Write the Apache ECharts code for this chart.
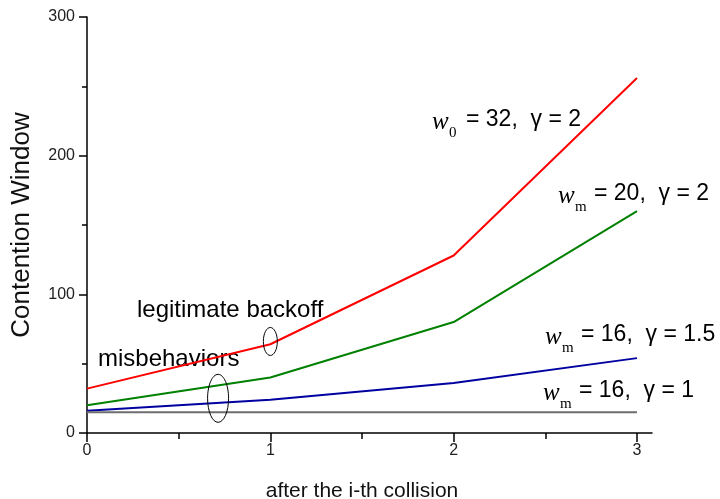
<!DOCTYPE html>
<html>
<head>
<meta charset="utf-8">
<script src="https://cdn.jsdelivr.net/npm/echarts@6/dist/echarts.min.js"></script>
<style>
  html, body { margin: 0; padding: 0; background: #fff; }
  #main { width: 720px; height: 499px; }
</style>
</head>
<body>
<div id="main"></div>
<script>
const collisions = [0, 1, 2, 3];
const legit = [32, 64, 128, 256];       // w0 = 32, gamma = 2
const misWm20 = [20, 40, 80, 160];      // wm = 20, gamma = 2
const misWm16g15 = [16, 24, 36, 54];    // wm = 16, gamma = 1.5
const misWm16g1 = [15, 15, 15, 15];     // wm = 16, gamma = 1
const yTicks = [0, 100, 200, 300];

const FONT = "Liberation Sans, Arial, sans-serif";
const SERIF = "Liberation Serif, Times New Roman, serif";

const pairs = (ys) => collisions.map((x, i) => [x, ys[i]]);

const line = (name, ys, color) => ({
  name: name,
  type: "line",
  xAxisIndex: 0,
  yAxisIndex: 0,
  data: pairs(ys),
  symbol: "none",
  lineStyle: { color: color, width: 2 },
  z: 3,
});

/* curve label like "w_m = 16,  γ = 1.5" */
const annot = (id, sub, rest, x, y, restX) => ({
  id: id,
  type: "group",
  x: x,
  y: y,
  children: [
    {
      type: "text",
      x: 0,
      y: 2,
      style: { text: "w", fontFamily: SERIF, fontStyle: "italic", fontSize: 25, fill: "#000", verticalAlign: "middle" },
    },
    {
      type: "text",
      x: 17,
      y: 13,
      style: { text: sub, fontFamily: SERIF, fontSize: 15, fill: "#000", verticalAlign: "middle" },
    },
    {
      type: "text",
      x: restX,
      y: 0,
      style: { text: rest, fontFamily: FONT, fontSize: 23, fill: "#000", verticalAlign: "middle" },
    },
  ],
});

const chartDom = document.getElementById("main");
const myChart = echarts.init(chartDom);

const option = {
  animation: false,
  grid: [
    { left: 87, right: 83, top: 17, bottom: 66, outerBoundsMode: "none" },
    { left: 87, right: 68, top: 17, bottom: 66, outerBoundsMode: "none" },
  ],
  xAxis: [
    {
      type: "value",
      gridIndex: 0,
      min: 0,
      max: 3,
      interval: 1,
      name: "after the i-th collision",
      nameLocation: "middle",
      nameGap: 48,
      nameTextStyle: { fontFamily: FONT, fontSize: 21, color: "#111" },
      axisLine: { show: false },
      axisTick: { show: true, length: 9, inside: false, lineStyle: { color: "#000", width: 1.5 } },
      minorTick: { show: true, splitNumber: 2, length: 6, lineStyle: { color: "#000", width: 1.5 } },
      axisLabel: { fontFamily: FONT, fontSize: 16, color: "#222", margin: 10 },
      splitLine: { show: false },
    },
    {
      type: "value",
      gridIndex: 1,
      min: 0,
      max: 1,
      axisLine: { show: true, onZero: false, lineStyle: { color: "#000", width: 1.5 } },
      axisTick: { show: false },
      axisLabel: { show: false },
      splitLine: { show: false },
    },
  ],
  yAxis: [
    {
      type: "value",
      gridIndex: 0,
      min: 0,
      max: 300,
      interval: 100,
      name: "Contention Window",
      nameLocation: "middle",
      nameGap: 52,
      nameTextStyle: { fontFamily: FONT, fontSize: 26, color: "#111" },
      axisLine: { show: true, lineStyle: { color: "#000", width: 1.5 } },
      axisTick: { show: true, length: 8, lineStyle: { color: "#000", width: 1.5 } },
      minorTick: { show: true, splitNumber: 2, length: 5, lineStyle: { color: "#000", width: 1.5 } },
      axisLabel: {
        fontFamily: FONT,
        fontSize: 16,
        color: "#222",
        margin: 12,
        formatter: (v) => (yTicks.includes(v) ? String(v) : ""),
      },
      splitLine: { show: false },
    },
    {
      type: "value",
      gridIndex: 1,
      min: 0,
      max: 1,
      show: false,
    },
  ],
  series: [
    line("w0 = 32, gamma = 2", legit, "#ff0000"),
    line("wm = 20, gamma = 2", misWm20, "#008000"),
    line("wm = 16, gamma = 1.5", misWm16g15, "#0000a0"),
    line("wm = 16, gamma = 1", misWm16g1, "#6e6e6e"),
  ],
  graphic: [
    annot("t0", "0", "= 32,  γ = 2", 432, 120, 34),
    annot("t1", "m", "= 20,  γ = 2", 558, 194, 36),
    annot("t2", "m", "= 16,  γ = 1.5", 545, 335, 36),
    annot("t3", "m", "= 16,  γ = 1", 543, 391, 36),
    {
      id: "legit",
      type: "text",
      left: 137,
      top: 298,
      style: { text: "legitimate backoff", fontFamily: FONT, fontSize: 24, fill: "#000" },
    },
    {
      id: "mis",
      type: "text",
      left: 98,
      top: 347,
      style: { text: "misbehaviors", fontFamily: FONT, fontSize: 24, fill: "#000" },
    },
  ],
};

option && myChart.setOption(option);

// ellipses marking the two groups of curves, placed in data coordinates
const p1 = myChart.convertToPixel({ gridIndex: 0 }, [1, 66]);
const p2 = myChart.convertToPixel({ gridIndex: 0 }, [0.715, 25]);
myChart.setOption({
  graphic: [
    {
      id: "e1",
      type: "ellipse",
      shape: { cx: p1[0], cy: p1[1], rx: 7, ry: 14 },
      style: { fill: "none", stroke: "#000", lineWidth: 1 },
      z: 10,
    },
    {
      id: "e2",
      type: "ellipse",
      shape: { cx: p2[0], cy: p2[1], rx: 10.5, ry: 24 },
      style: { fill: "none", stroke: "#000", lineWidth: 1 },
      z: 10,
    },
  ],
});
</script>
</body>
</html>
